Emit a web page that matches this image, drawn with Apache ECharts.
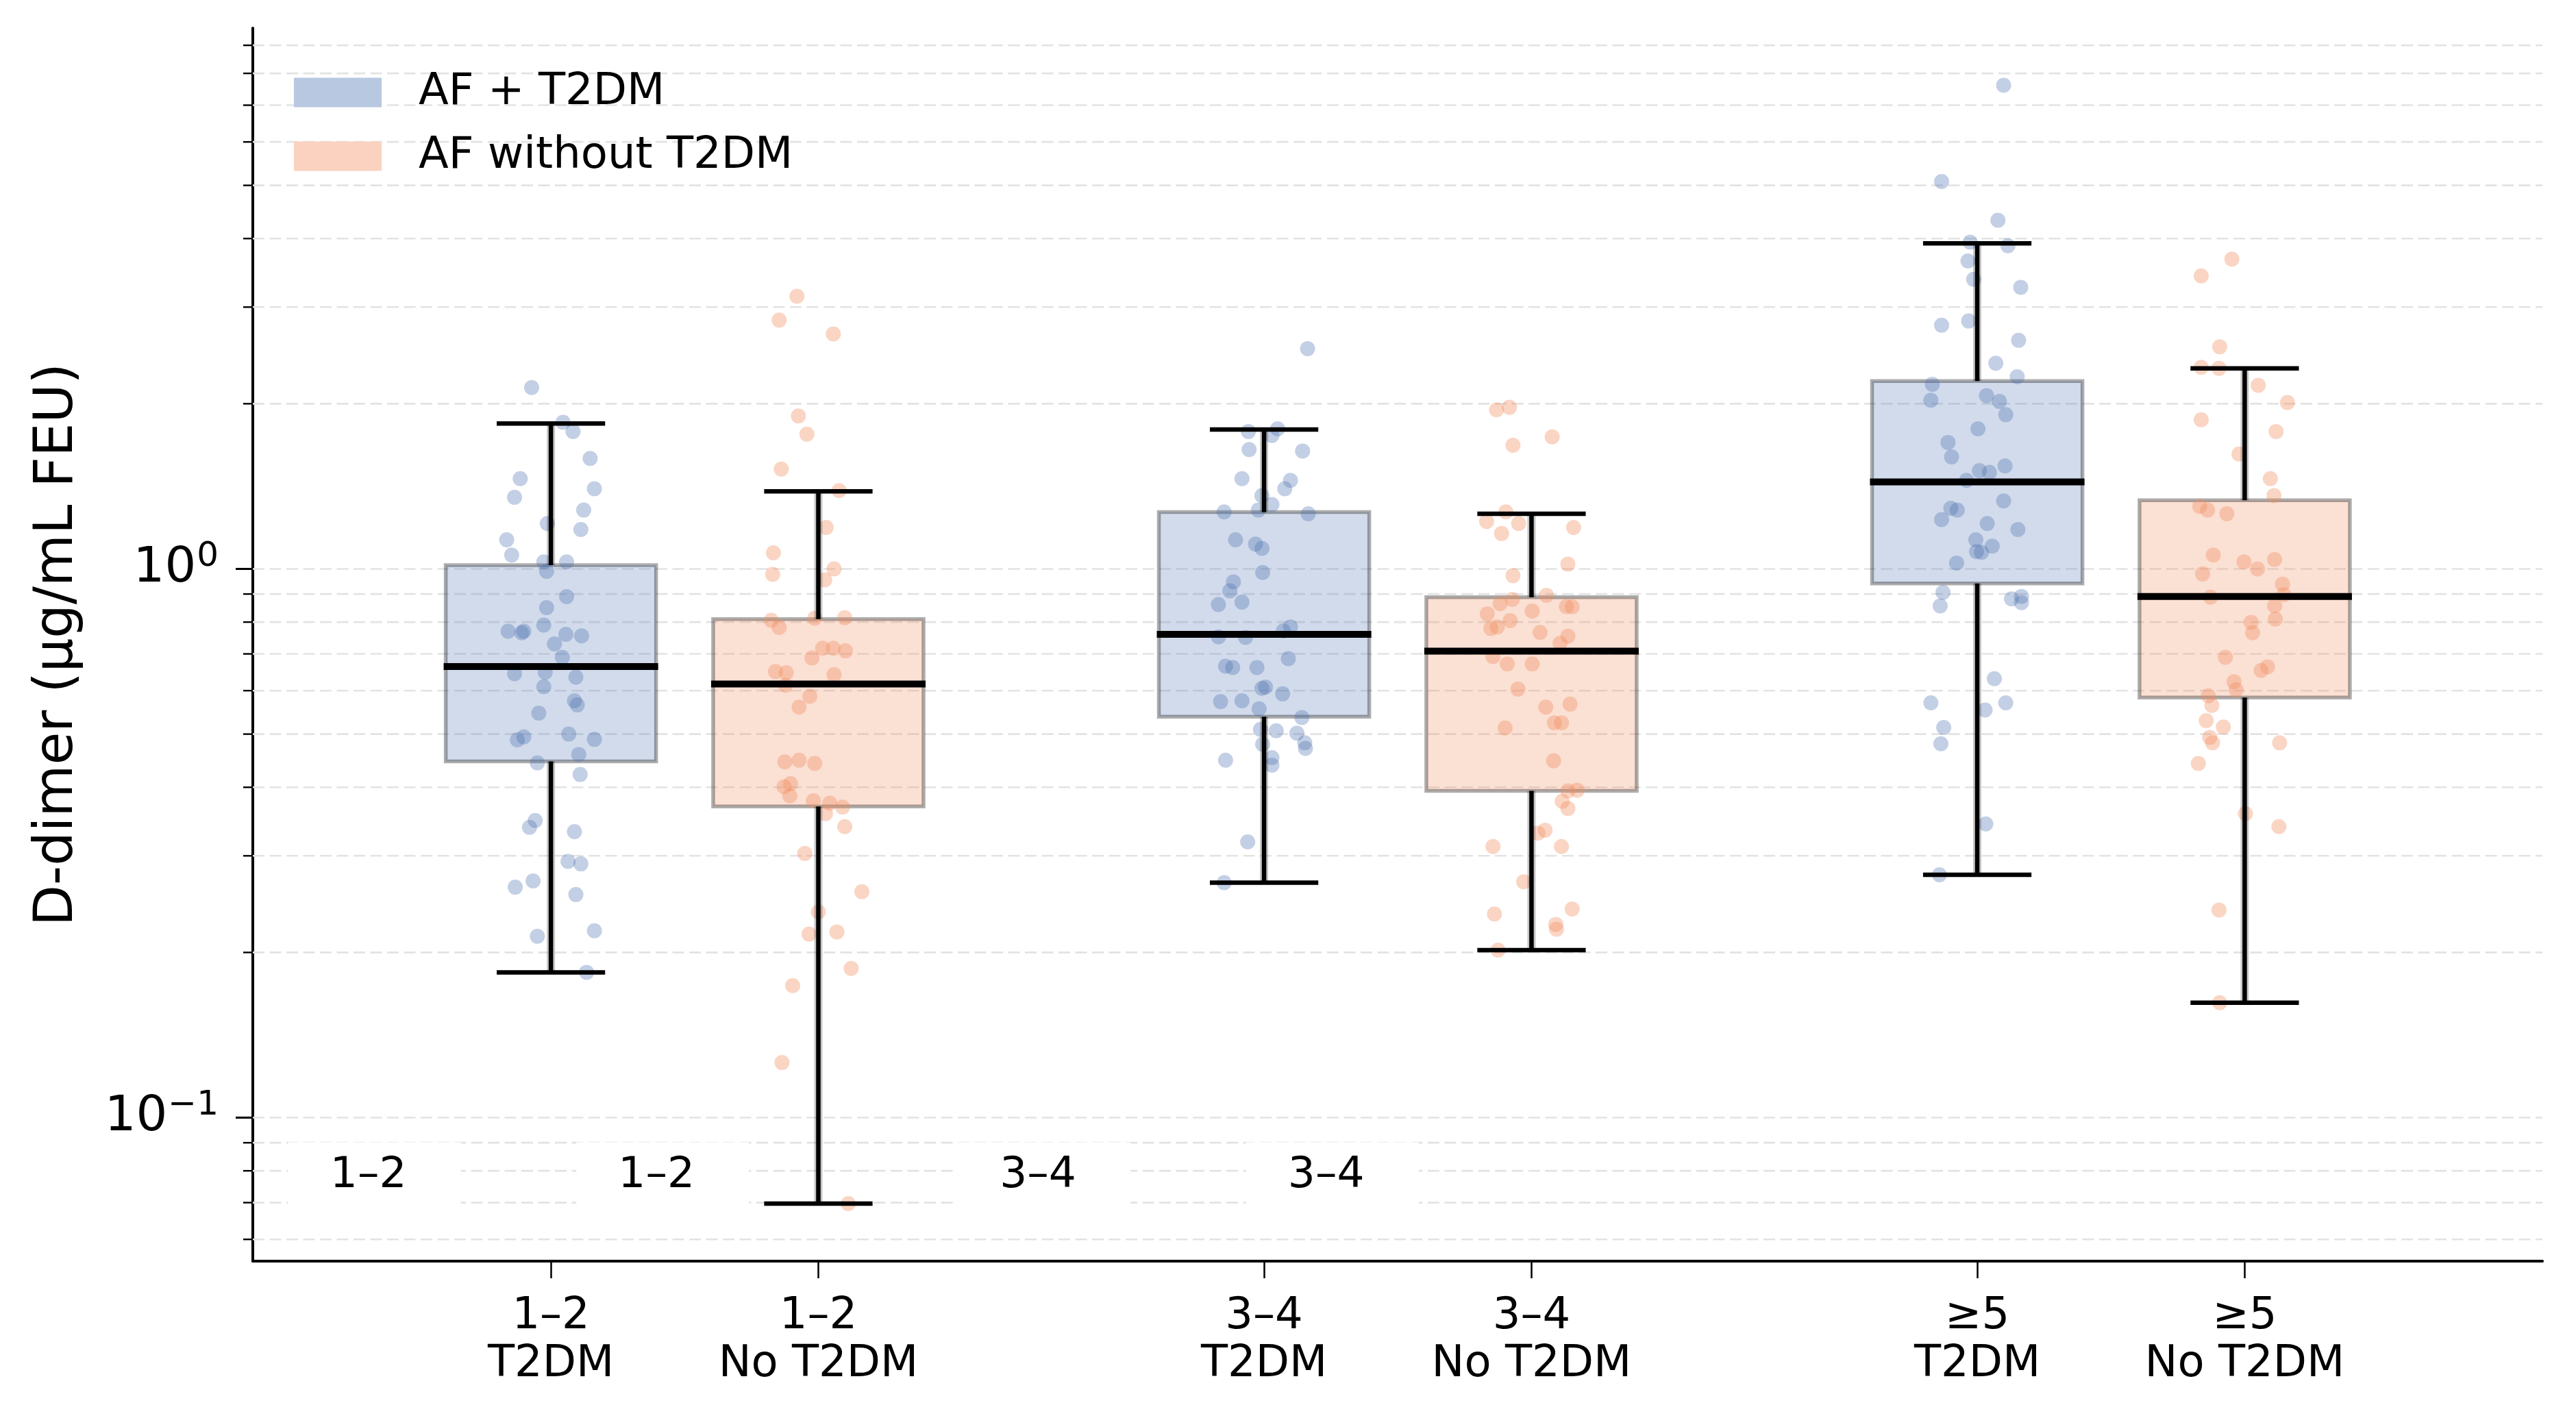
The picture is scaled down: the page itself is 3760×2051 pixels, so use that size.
<!DOCTYPE html>
<html>
<head>
<meta charset="utf-8">
<script src="https://cdn.jsdelivr.net/npm/echarts@6/dist/echarts.min.js"></script>
<style>html,body{margin:0;padding:0;background:#fff}#c{width:3760px;height:2051px}</style>
</head>
<body>
<div id="c"></div>
<script>
// ---------------- DATA ----------------
const categories = ['1–2\nT2DM', '1–2\nNo T2DM', '3–4\nT2DM', '3–4\nNo T2DM', '≥5\nT2DM', '≥5\nNo T2DM'];
const positions = [0, 0.375, 1, 1.375, 2, 2.375];
const groupOf = [0, 1, 0, 1, 0, 1];
const seriesNames = ['AF + T2DM', 'AF without T2DM'];

const whiskerLow  = [0.184, 0.0697, 0.268, 0.202, 0.277, 0.162];
const q1          = [0.446, 0.369, 0.538, 0.394, 0.941, 0.583];
const median      = [0.664, 0.617, 0.760, 0.708, 1.441, 0.891];
const q3          = [1.016, 0.810, 1.269, 0.888, 2.200, 1.334];
const whiskerHigh = [1.84, 1.385, 1.795, 1.26, 3.92, 2.32];

const pts12T = [2.14,1.85,1.78,1.59,1.46,1.40,1.35,1.28,1.21,1.18,1.13,1.06,1.03,1.03,0.99,0.89,0.85,0.79,0.77,0.765,0.77,0.76,0.755,0.73,0.69,0.644,0.648,0.635,0.61,0.575,0.565,0.546,0.50,0.488,0.494,0.489,0.459,0.443,0.422,0.348,0.338,0.332,0.293,0.290,0.270,0.263,0.255,0.219,0.214,0.184];
const jit12T = [-0.027,0.017,0.031,0.055,-0.043,0.061,-0.051,0.046,-0.005,0.042,-0.062,-0.055,-0.010,0.022,-0.006,0.022,-0.006,-0.010,-0.060,-0.041,-0.038,0.021,0.043,0.005,0.016,-0.051,-0.008,0.035,-0.010,0.033,0.037,-0.017,0.025,-0.047,-0.038,0.061,0.039,-0.019,0.041,-0.022,-0.030,0.033,0.024,0.042,-0.025,-0.050,0.035,0.061,-0.019,0.050];

const pts12N = [3.14,2.84,2.68,1.90,1.76,1.52,1.389,1.19,1.07,1.00,0.977,0.955,0.806,0.813,0.815,0.782,0.688,0.717,0.717,0.709,0.650,0.647,0.642,0.614,0.586,0.560,0.445,0.448,0.442,0.401,0.406,0.386,0.378,0.374,0.358,0.368,0.339,0.303,0.258,0.237,0.216,0.218,0.187,0.174,0.126,0.0697];
const jit12N = [-0.030,-0.055,0.021,-0.028,-0.016,-0.052,0.029,0.011,-0.063,0.022,-0.064,0.009,-0.066,-0.005,0.037,-0.055,-0.009,0.006,0.021,0.038,-0.060,-0.045,0.022,-0.046,-0.012,-0.027,-0.047,-0.027,-0.005,-0.048,-0.039,-0.040,-0.007,0.016,0.010,0.034,0.037,-0.019,0.061,0.000,-0.013,0.026,0.046,-0.036,-0.051,0.042];

const pts34T = [2.52,1.78,1.80,1.75,1.65,1.64,1.46,1.45,1.40,1.36,1.31,1.27,1.28,1.26,1.13,1.11,1.09,0.985,0.947,0.912,0.861,0.870,0.784,0.771,0.752,0.750,0.665,0.661,0.661,0.686,0.609,0.606,0.592,0.573,0.575,0.556,0.536,0.510,0.507,0.502,0.482,0.471,0.479,0.453,0.439,0.448,0.318,0.268];
const jit34T = [0.061,-0.022,0.019,0.011,-0.021,0.054,-0.031,0.037,0.029,-0.003,0.011,-0.056,-0.008,0.062,-0.040,-0.012,-0.003,-0.002,-0.043,-0.048,-0.064,-0.031,0.037,0.027,-0.064,-0.026,-0.054,-0.044,-0.010,0.034,0.002,-0.003,0.026,-0.061,-0.031,-0.007,0.053,-0.005,0.017,0.046,0.057,0.058,-0.002,0.011,0.011,-0.054,-0.023,-0.056];

const pts34N = [1.95,1.97,1.74,1.68,1.27,1.22,1.21,1.19,1.16,1.02,0.972,0.895,0.880,0.864,0.854,0.853,0.828,0.838,0.805,0.779,0.784,0.766,0.754,0.732,0.692,0.671,0.671,0.604,0.560,0.567,0.524,0.524,0.513,0.447,0.394,0.395,0.377,0.366,0.330,0.334,0.312,0.312,0.269,0.235,0.240,0.225,0.2205,0.202];
const jit34N = [-0.049,-0.031,0.029,-0.026,-0.036,-0.063,-0.018,0.059,-0.042,0.051,-0.026,0.021,-0.027,-0.044,0.049,0.057,-0.062,0.001,-0.030,-0.057,-0.048,0.012,0.051,0.040,-0.054,-0.034,0.001,-0.019,0.020,0.054,0.032,0.042,-0.037,0.031,0.051,0.064,0.043,0.051,0.009,0.019,-0.054,0.042,-0.011,-0.052,0.057,0.034,0.035,-0.047];

const pts5T = [7.61,5.08,4.32,3.94,3.88,3.64,3.37,3.26,2.78,2.83,2.61,2.37,2.24,2.17,2.03,2.07,2.02,1.91,1.80,1.70,1.60,1.54,1.51,1.50,1.45,1.29,1.28,1.33,1.23,1.21,1.18,1.13,1.10,1.075,1.072,1.025,0.906,0.856,0.882,0.891,0.868,0.631,0.570,0.570,0.553,0.514,0.480,0.343,0.277];
const jit5T = [0.037,-0.050,0.029,-0.010,0.043,-0.013,-0.005,0.061,-0.050,-0.012,0.058,0.026,0.056,-0.063,-0.065,0.013,0.031,0.040,0.001,-0.041,-0.036,0.039,0.003,0.017,-0.015,-0.037,-0.028,0.037,-0.050,0.014,0.057,-0.002,0.021,-0.001,0.006,-0.029,-0.048,-0.052,0.048,0.062,0.062,0.024,-0.065,0.040,0.011,-0.047,-0.051,0.012,-0.053];

const pts5N = [3.67,3.42,2.54,2.33,2.32,2.16,2.01,1.87,1.78,1.62,1.46,1.36,1.30,1.28,1.26,1.06,1.03,1.00,1.04,0.979,0.938,0.888,0.898,0.856,0.799,0.810,0.765,0.690,0.653,0.663,0.623,0.602,0.587,0.564,0.529,0.515,0.493,0.482,0.482,0.442,0.358,0.339,0.239,0.162];
const jit5N = [-0.018,-0.061,-0.035,-0.061,-0.036,0.019,0.060,-0.061,0.044,-0.008,0.036,0.041,-0.063,-0.052,-0.025,-0.044,-0.001,0.018,0.042,-0.059,0.053,-0.048,0.055,0.042,0.009,0.043,0.011,-0.027,0.023,0.032,-0.015,-0.012,-0.051,-0.046,-0.054,-0.030,-0.049,-0.045,0.049,-0.065,0.001,0.048,-0.036,-0.035];

const pointValues = [pts12T, pts12N, pts34T, pts34N, pts5T, pts5N];
const pointJitter = [jit12T, jit12N, jit34T, jit34N, jit5T, jit5N];

const majorTickValues = [0.1, 1];
const majorTickBase = ['10', '10'];
const majorTickExp = ['−1', '0'];
const minorTickValues = [0.06,0.07,0.08,0.09,0.2,0.3,0.4,0.5,0.6,0.7,0.8,0.9,2,3,4,5,6,7,8,9];

const innerLabelText = ['1–2', '1–2', '3–4', '3–4'];
const innerLabelX = [-0.256, 0.148, 0.683, 1.087];
const innerLabelY = [0.0783, 0.0783, 0.0783, 0.0783];

const yAxisTitle = 'D-dimer (µg/mL FEU)';

// ---------------- STYLE ----------------
const FONT = 'DejaVu Sans';
const X_MIN = -0.418, X_MAX = 2.7925, Y_MIN = 0.05476, Y_MAX = 9.674;
const BOX_W = 0.295, CAP_W = 0.152;
const BOX_FILL = ['rgba(76,114,176,0.26)', 'rgba(242,140,95,0.27)'];
const POINT_COLOR = ['rgba(76,114,176,0.42)', 'rgba(242,140,95,0.46)'];
const LEGEND_COLOR = ['#b8c8e1', '#fbd2c0'];

const measureCtx = document.createElement('canvas').getContext('2d');
function textWidth(t, size) { measureCtx.font = size + 'px "' + FONT + '"'; return measureCtx.measureText(t).width; }

const chart = echarts.init(document.getElementById('c'), null, {renderer: 'canvas', width: 3760, height: 2051});

function renderGridItem(params, api) {
  const v = api.value(1);
  const major = api.value(2) === 1;
  const cs = params.coordSys;
  const y = api.coord([X_MIN, v])[1];
  const children = [
    {type: 'line', shape: {x1: cs.x, y1: y, x2: cs.x + cs.width, y2: y},
     style: {stroke: '#e3e3e3', lineWidth: 2.6, lineDash: [17, 7.5]}},
    {type: 'line', shape: {x1: cs.x - (major ? 25 : 14), y1: y, x2: cs.x, y2: y},
     style: {stroke: '#000', lineWidth: major ? 3 : 2.4}}
  ];
  if (major) {
    const idx = majorTickValues.indexOf(v);
    const exp = majorTickExp[idx];
    const rightX = cs.x - 50;
    const expW = textWidth(exp, 50);
    children.push({type: 'text', x: rightX, y: y - 17.5,
      style: {text: exp, fontSize: 50, fontFamily: FONT, fill: '#000', align: 'right', verticalAlign: 'middle'}});
    children.push({type: 'text', x: rightX - expW - 1, y: y,
      style: {text: majorTickBase[idx], fontSize: 72, fontFamily: FONT, fill: '#000', align: 'right', verticalAlign: 'middle'}});
  }
  return {type: 'group', children};
}

function boxRect(api) {
  const x = api.value(0);
  const pA = api.coord([x - BOX_W / 2, api.value(4)]);
  const pB = api.coord([x + BOX_W / 2, api.value(2)]);
  return {x: pA[0], y: pA[1], w: pB[0] - pA[0], h: pB[1] - pA[1]};
}

function makeBoxFill(g) {
  return function (params, api) {
    const r = boxRect(api);
    return {type: 'rect', shape: {x: r.x, y: r.y, width: r.w, height: r.h},
      style: {fill: BOX_FILL[g], stroke: 'rgba(0,0,0,0.32)', lineWidth: 5.5}};
  };
}

function renderBoxLines(params, api) {
  const x = api.value(0);
  const r = boxRect(api);
  const cx = api.coord([x, 1])[0];
  const yLow = api.coord([x, api.value(1)])[1];
  const yHigh = api.coord([x, api.value(5)])[1];
  const yMed = api.coord([x, api.value(3)])[1];
  const capL = api.coord([x - CAP_W / 2, 1])[0];
  const capR = api.coord([x + CAP_W / 2, 1])[0];
  const halo = {stroke: 'rgba(0,0,0,0.22)', lineWidth: 12};
  const blk = {stroke: '#000', lineWidth: 6.5};
  return {type: 'group', children: [
    {type: 'line', shape: {x1: cx, y1: r.y + r.h, x2: cx, y2: yLow}, style: halo},
    {type: 'line', shape: {x1: cx, y1: r.y, x2: cx, y2: yHigh}, style: halo},
    {type: 'line', shape: {x1: cx, y1: r.y + r.h, x2: cx, y2: yLow}, style: blk},
    {type: 'line', shape: {x1: cx, y1: r.y, x2: cx, y2: yHigh}, style: blk},
    {type: 'line', shape: {x1: capL, y1: yLow, x2: capR, y2: yLow}, style: blk},
    {type: 'line', shape: {x1: capL, y1: yHigh, x2: capR, y2: yHigh}, style: blk},
    {type: 'line', shape: {x1: r.x - 3, y1: yMed, x2: r.x + r.w + 3, y2: yMed}, style: {stroke: '#000', lineWidth: 10}}
  ]};
}

function renderInnerLabel(params, api) {
  const p = api.coord([api.value(0), api.value(1)]);
  return {type: 'group', children: [
    {type: 'rect', shape: {x: p[0] - 117, y: p[1] - 49, width: 252, height: 98}, style: {fill: '#fff'}},
    {type: 'text', x: p[0], y: p[1], style: {text: innerLabelText[params.dataIndex], fontSize: 63, fontFamily: FONT,
      fill: '#000', align: 'center', verticalAlign: 'middle'}}
  ]};
}

const gridData = majorTickValues.map(v => [X_MIN, v, 1]).concat(minorTickValues.map(v => [X_MIN, v, 0]));

const series = [{
  type: 'custom', name: 'grid', renderItem: renderGridItem, data: gridData, clip: false, silent: true, z: 1,
  encode: {x: 0, y: 1}
}, {
  type: 'custom', name: 'innerLabels', renderItem: renderInnerLabel, clip: false, silent: true, z: 2,
  data: innerLabelX.map((x, i) => [x, innerLabelY[i]]), encode: {x: 0, y: 1}
}];

for (let g = 0; g < 2; g++) {
  const boxData = [];
  const ptData = [];
  positions.forEach((p, i) => {
    if (groupOf[i] !== g) return;
    boxData.push([p, whiskerLow[i], q1[i], median[i], q3[i], whiskerHigh[i]]);
    pointValues[i].forEach((v, k) => ptData.push([p + pointJitter[i][k], v]));
  });
  series.push({type: 'custom', name: seriesNames[g], renderItem: makeBoxFill(g), data: boxData, z: 3,
    encode: {x: 0, y: [1, 2, 3, 4, 5]}, silent: true});
  series.push({type: 'scatter', name: seriesNames[g], data: ptData, z: 4, symbol: 'circle', symbolSize: 22,
    itemStyle: {color: POINT_COLOR[g], borderWidth: 0}, silent: true});
  series.push({type: 'custom', name: seriesNames[g], renderItem: renderBoxLines, data: boxData, z: 5,
    encode: {x: 0, y: [1, 2, 3, 4, 5]}, silent: true});
}

function labelFor(v) {
  let best = 0;
  positions.forEach((p, i) => { if (Math.abs(p - v) < Math.abs(positions[best] - v)) best = i; });
  return categories[best];
}

chart.setOption({
  animation: false,
  backgroundColor: '#fff',
  grid: {left: 369, right: 49, top: 41, bottom: 210, containLabel: false},
  legend: {
    left: 429, top: 99, orient: 'vertical', padding: 0, itemWidth: 128, itemHeight: 43, itemGap: 21,
    selectedMode: false,
    textStyle: {fontFamily: FONT, fontSize: 64, color: '#000', lineHeight: 72, padding: [0, 0, 0, 49]},
    data: seriesNames.map((n, g) => ({name: n, icon: 'rect', itemStyle: {color: LEGEND_COLOR[g], borderWidth: 0}}))
  },
  xAxis: {
    type: 'value', min: X_MIN, max: X_MAX,
    axisLine: {show: true, onZero: false, lineStyle: {color: '#000', width: 4}},
    axisTick: {show: true, customValues: positions, length: 25, lineStyle: {color: '#000', width: 2.5}},
    axisLabel: {show: true, customValues: positions, formatter: labelFor, fontFamily: FONT, fontSize: 64,
      lineHeight: 70, color: '#000', margin: 46},
    splitLine: {show: false}
  },
  yAxis: {
    type: 'log', logBase: 10, min: Y_MIN, max: Y_MAX,
    name: yAxisTitle, nameLocation: 'middle', nameRotate: 90, nameGap: 245,
    nameTextStyle: {fontFamily: FONT, fontSize: 78, color: '#000'},
    axisLine: {show: true, onZero: false, lineStyle: {color: '#000', width: 4}},
    axisTick: {show: false}, axisLabel: {show: false}, splitLine: {show: false}, minorTick: {show: false}
  },
  series
});
</script>
</body>
</html>
